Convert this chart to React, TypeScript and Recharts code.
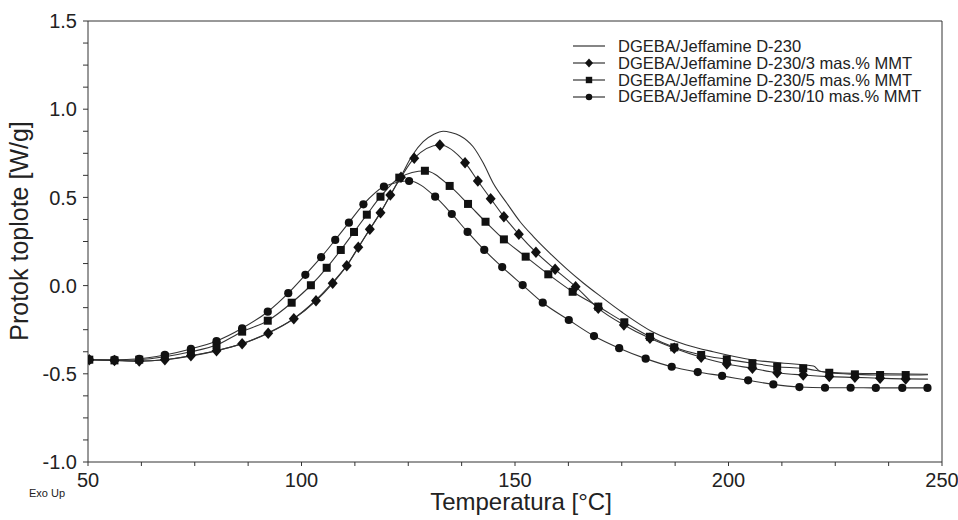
import { LineChart, Line, XAxis, YAxis, ReferenceLine, Label } from "recharts";

const FONT = "'Liberation Sans', Arial, Helvetica, sans-serif";
const INK = "#222";
const LINE = "#333";

// axis ticks
const xTicks = [50, 62.5, 75, 87.5, 100, 112.5, 125, 137.5, 150, 162.5, 175, 187.5, 200, 212.5, 225, 237.5, 250];
const xLabeled = [50, 100, 150, 200, 250];
const yTicks = [
  -1, -0.875, -0.75, -0.625, -0.5, -0.375, -0.25, -0.125, 0, 0.125, 0.25, 0.375, 0.5, 0.625, 0.75, 0.875, 1,
  1.125, 1.25, 1.375, 1.5,
];
const yLabeled = [-1, -0.5, 0, 0.5, 1, 1.5];

const seriesNames = [
  "DGEBA/Jeffamine D-230",
  "DGEBA/Jeffamine D-230/3 mas.% MMT",
  "DGEBA/Jeffamine D-230/5 mas.% MMT",
  "DGEBA/Jeffamine D-230/10 mas.% MMT",
];

// DGEBA/Jeffamine D-230 (no markers)
const tPlain = [
  50, 56, 62, 68, 74, 80, 86, 92, 98, 103, 107, 110.5, 113.3, 116, 118.5, 121, 123.3, 126, 128.5, 131, 133.2, 135,
  137.1, 140.2, 142.6, 144.9, 148.1, 151.2, 154.3, 158.2, 162.1, 166, 170, 175, 182.4, 190, 196.4, 205.8, 213,
  219.9, 221.6, 229.2, 238, 246.7,
];
const vPlain = [
  -0.42, -0.424, -0.428, -0.42, -0.4, -0.37, -0.33, -0.27, -0.19, -0.09, 0.01, 0.11, 0.215, 0.32, 0.415, 0.52, 0.62,
  0.74, 0.816, 0.858, 0.875, 0.868, 0.85, 0.787, 0.693, 0.58, 0.467, 0.362, 0.278, 0.183, 0.095, 0.015, -0.06,
  -0.15, -0.265, -0.335, -0.375, -0.422, -0.44, -0.456, -0.487, -0.497, -0.5, -0.503,
];

// 3 mas.% MMT (diamonds) - last point is line end only
const tD3 = [
  50.3, 56.2, 62.0, 68.0, 74.1, 80.1, 86.1, 92.2, 98.2, 103.4, 107.3, 110.6, 113.3, 116.0, 118.5, 120.8, 123.3, 126.4,
  132.4, 138.3, 141.3, 144.3, 147.4, 150.9, 154.9, 159.4, 164.2, 169.5, 175.5, 181.6, 187.3, 193.6, 199.6, 205.6,
  211.4, 217.5, 223.6, 229.6, 235.5, 241.5, 246.7,
];
const vD3 = [
  -0.42, -0.424, -0.428, -0.42, -0.397, -0.369, -0.329, -0.27, -0.188, -0.086, 0.013, 0.113, 0.217, 0.319, 0.413,
  0.514, 0.614, 0.722, 0.797, 0.697, 0.593, 0.493, 0.391, 0.291, 0.189, 0.092, -0.006, -0.129, -0.223, -0.299,
  -0.355, -0.406, -0.444, -0.469, -0.494, -0.507, -0.516, -0.52, -0.525, -0.529, -0.53,
];

// 5 mas.% MMT (squares) - last point is line end only
const tD5 = [
  50.3, 56.2, 62.0, 68.0, 74.1, 80.1, 86.1, 92.1, 97.7, 102.2, 105.9, 109.2, 112.3, 115.3, 118.5, 122.9, 128.9,
  134.7, 139.0, 143.1, 147.4, 152.5, 157.8, 163.5, 169.5, 175.6, 181.6, 187.3, 193.6, 199.6, 205.6, 211.4, 217.5,
  223.6, 229.6, 235.5, 241.5, 246.7,
];
const vD5 = [
  -0.42, -0.424, -0.42, -0.403, -0.375, -0.337, -0.261, -0.199, -0.097, 0.002, 0.101, 0.202, 0.304, 0.402, 0.504,
  0.612, 0.651, 0.565, 0.463, 0.362, 0.262, 0.164, 0.064, -0.035, -0.119, -0.208, -0.29, -0.35, -0.393, -0.418,
  -0.44, -0.46, -0.469, -0.494, -0.503, -0.507, -0.507, -0.505,
];

// 10 mas.% MMT (circles)
const tD10 = [
  50.3, 56.2, 62.0, 68.0, 74.1, 80.1, 86.1, 92.1, 96.9, 100.9, 104.6, 107.9, 111.1, 114.5, 119.3, 125.2, 131.3,
  135.2, 138.9, 142.8, 147.0, 151.8, 156.5, 162.6, 168.5, 174.4, 180.6, 186.7, 192.8, 198.5, 204.6, 210.5, 216.6,
  222.6, 228.6, 234.5, 240.7, 246.6,
];
const vD10 = [
  -0.42, -0.42, -0.415, -0.393, -0.359, -0.314, -0.242, -0.148, -0.043, 0.061, 0.161, 0.259, 0.357, 0.461, 0.561,
  0.593, 0.504, 0.406, 0.304, 0.202, 0.105, 0.003, -0.097, -0.195, -0.286, -0.355, -0.414, -0.46, -0.49, -0.512,
  -0.537, -0.56, -0.575, -0.579, -0.579, -0.58, -0.58, -0.58,
];

const toRows = (ts: number[], vs: number[]) => ts.map((t, i) => ({ t, v: vs[i] }));
const plainData = toRows(tPlain, vPlain);
const d3Data = toRows(tD3, vD3);
const d5Data = toRows(tD5, vD5);
const d10Data = toRows(tD10, vD10);

type Shape = "diamond" | "square" | "circle";

function marker(shape: Shape, cx: number, cy: number, s: number, key?: string) {
  if (shape === "diamond")
    return (
      <polygon
        key={key}
        points={`${cx},${cy - s * 1.15} ${cx + s},${cy} ${cx},${cy + s * 1.15} ${cx - s},${cy}`}
        fill="#111"
      />
    );
  if (shape === "square")
    return <rect key={key} x={cx - s * 0.8} y={cy - s * 0.8} width={s * 1.6} height={s * 1.6} fill="#111" />;
  return <circle key={key} cx={cx} cy={cy} r={s * 0.82} fill="#111" />;
}

const makeDot = (shape: Shape, total: number, skipLast: boolean) => (props: any) => {
  const { cx, cy, index } = props;
  const key = `${shape}-${index}`;
  if (cx == null || cy == null || (skipLast && index === total - 1)) return <g key={key} />;
  return marker(shape, cx, cy, 5, key);
};

const xFmt = (v: number) => (xLabeled.includes(v) ? String(v) : "");
const yFmt = (v: number) => (yLabeled.includes(v) ? v.toFixed(1) : "");

function LegendBox() {
  const shapes: (Shape | null)[] = [null, "diamond", "square", "circle"];
  return (
    <div style={{ position: "absolute", left: 573, top: 38, fontFamily: FONT, fontSize: 16.5, color: INK }}>
      {seriesNames.map((name, i) => (
        <div key={name} style={{ display: "flex", alignItems: "center", height: 16.8, whiteSpace: "nowrap" }}>
          <svg width={45} height={16} style={{ flex: "none" }}>
            <line x1={0} y1={8} x2={32} y2={8} stroke={LINE} strokeWidth={1.2} />
            {shapes[i] ? marker(shapes[i] as Shape, 16, 8, 4) : null}
          </svg>
          <span>{name}</span>
        </div>
      ))}
    </div>
  );
}

export default function App() {
  return (
    <div style={{ position: "absolute", left: 0, top: 0, width: 958, height: 520, background: "#fff" }}>
      <LineChart
        width={958}
        height={520}
        margin={{ top: 21, right: 16, bottom: 0, left: 0 }}
        style={{ fontFamily: FONT }}
      >
        <XAxis
          dataKey="t"
          type="number"
          domain={[50, 250]}
          ticks={xTicks}
          interval={0}
          tickFormatter={xFmt}
          height={58}
          tickSize={4}
          tickMargin={7}
          allowDataOverflow
          stroke={LINE}
          tick={{ fill: INK, fontSize: 20 }}
        >
          <Label
            content={() => (
              <text x={521} y={510} textAnchor="middle" fill={INK} fontSize={24} fontFamily={FONT}>
                Temperatura [°C]
              </text>
            )}
          />
          <Label
            content={() => (
              <text x={29} y={497} fill={INK} fontSize={11} fontFamily={FONT}>
                Exo Up
              </text>
            )}
          />
        </XAxis>
        <YAxis
          type="number"
          domain={[-1, 1.5]}
          ticks={yTicks}
          interval={0}
          tickFormatter={yFmt}
          width={88}
          tickSize={5}
          tickMargin={6}
          allowDataOverflow
          stroke={LINE}
          tick={{ fill: INK, fontSize: 20 }}
        >
          <Label
            content={() => (
              <text
                x={28}
                y={231}
                transform="rotate(-90, 28, 231)"
                textAnchor="middle"
                fill={INK}
                fontSize={25}
                fontFamily={FONT}
              >
                Protok toplote [W/g]
              </text>
            )}
          />
        </YAxis>
        <ReferenceLine y={1.5} stroke={LINE} strokeWidth={1} />
        <ReferenceLine x={250} stroke={LINE} strokeWidth={1} />
        <Line
          data={plainData}
          dataKey="v"
          type="monotone"
          stroke={LINE}
          strokeWidth={1.1}
          dot={false}
          activeDot={false}
          isAnimationActive={false}
        />
        <Line
          data={d3Data}
          dataKey="v"
          type="monotone"
          stroke={LINE}
          strokeWidth={1.1}
          dot={makeDot("diamond", d3Data.length, true)}
          activeDot={false}
          isAnimationActive={false}
        />
        <Line
          data={d5Data}
          dataKey="v"
          type="monotone"
          stroke={LINE}
          strokeWidth={1.1}
          dot={makeDot("square", d5Data.length, true)}
          activeDot={false}
          isAnimationActive={false}
        />
        <Line
          data={d10Data}
          dataKey="v"
          type="monotone"
          stroke={LINE}
          strokeWidth={1.1}
          dot={makeDot("circle", d10Data.length, false)}
          activeDot={false}
          isAnimationActive={false}
        />
      </LineChart>
      <LegendBox />
    </div>
  );
}
